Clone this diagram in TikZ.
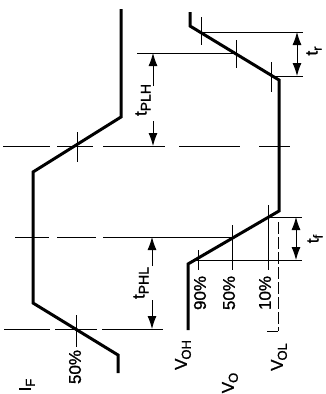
\documentclass[tikz,border=0pt]{standalone}
\usepackage{fontspec}
\setmainfont{Liberation Sans}
\newfontfamily\lblfont{Liberation Sans}[FakeBold=1.2]
\usetikzlibrary{arrows.meta}
\newcommand{\sbx}[1]{\raisebox{-0.45ex}{\fontsize{13}{13}\selectfont #1}}
\newcommand{\sby}[1]{\raisebox{-0.45ex}{\fontsize{14}{14}\selectfont #1}}
\begin{document}
\begin{tikzpicture}[x=1pt,y=-1pt,
  wave/.style={line width=3pt, line join=miter},
  thin/.style={line width=0.9pt},
  dimarrow/.style={line width=0.9pt, -{Latex[length=13pt,width=9pt]}},
  dimboth/.style={line width=0.9pt, {Latex[length=13pt,width=9pt]}-{Latex[length=13pt,width=9pt]}},
  vdash/.style={line width=0.9pt, dash pattern=on 12pt off 3pt},
  lbl/.style={font=\lblfont\fontsize{17}{17}\selectfont, rotate=90, inner sep=0pt},
]
\useasboundingbox (0,0) rectangle (325,394);

% ---------- IF waveform ----------
\draw[wave] (118,373) -- (118,355) -- (33,303) -- (33,172) -- (121,117) -- (121,9);
% 50% ticks on IF
\draw[thin] (77,132) -- (77,162);
\draw[thin] (76,315) -- (76,347);

% ---------- VO waveform ----------
\draw[wave] (190,12) -- (190,26) -- (279,80) -- (279,211) -- (188,264) -- (188,330);
% ticks on rising edge
\draw[thin] (201,17) -- (201,45);
\draw[thin] (236,40) -- (236,68);
\draw[thin] (271,62) -- (271,92);
% ticks on falling edge (down to labels)
\draw[thin] (268,205) -- (268,270);
\draw[thin] (232,225) -- (232,270);
\draw[thin] (198,250) -- (198,270);
% VOL reference line
\draw[vdash] (278,222) -- (278,331);
\draw[thin] (267,331) -- (278,331);

% ---------- horizontal reference lines ----------
\draw[thin] (137,53) -- (236,53);
\draw[thin] (3,146) -- (50,146);
\draw[thin] (57,146) -- (93,146);
\draw[thin] (103,146) -- (165,146);
\draw[thin] (179,146) -- (240,146);
\draw[thin] (259,146) -- (290,146);
\draw[thin] (15,237) -- (49,237);
\draw[thin] (57,237) -- (96,237);
\draw[thin] (103,237) -- (232,237);
\draw[thin] (4,329) -- (50,329);
\draw[thin] (55,329) -- (97,329);
\draw[thin] (102,329) -- (163,329);
\draw[thin] (200,32) -- (303,32);
\draw[thin] (272,76) -- (303,76);
\draw[thin] (268,217) -- (302,217);
\draw[thin] (193,260) -- (302,260);

% ---------- dimension arrows ----------
\coordinate (trA) at (297,32);
\coordinate (trB) at (297,76);
\draw[dimboth] (trA) -- (trB);
\node[lbl] (tr) at (314,51) {t\sbx{r}};

\coordinate (tfA) at (296,217);
\coordinate (tfB) at (296,260);
\draw[dimboth] (tfA) -- (tfB);
\node[lbl] (tf) at (315,239) {t\sbx{f}};

\coordinate (plhA) at (153,53);
\coordinate (plhB) at (153,146);
\coordinate (plhC) at (153,86);
\coordinate (plhD) at (153,121);
\draw[dimarrow] (plhC) -- (plhA);
\draw[dimarrow] (plhD) -- (plhB);
\node[lbl] (tplh) at (143,100) {t\sby{PLH}};

\coordinate (phlA) at (152,237);
\coordinate (phlB) at (152,329);
\coordinate (phlC) at (152,266);
\coordinate (phlD) at (152,300);
\draw[dimarrow] (phlC) -- (phlA);
\draw[dimarrow] (phlD) -- (phlB);
\node[lbl] (tphl) at (141,283) {t\sby{PHL}};

% ---------- labels ----------
\node[lbl] (IF) at (27,385) {I\sbx{F}};
\node[lbl] (p50a) at (75,367) {50\%};
\node[lbl] (p90) at (200,293) {90\%};
\node[lbl] (p50b) at (229,293) {50\%};
\node[lbl] (p10) at (265,293) {10\%};
\node[lbl] (VOH) at (183,355) {V\kern-1pt\sbx{OH}};
\node[lbl] (VO) at (230,383) {V\kern-1pt\sbx{O}};
\node[lbl] (VOL) at (279,357) {V\kern-1pt\sbx{OL}};
\end{tikzpicture}
\end{document}
